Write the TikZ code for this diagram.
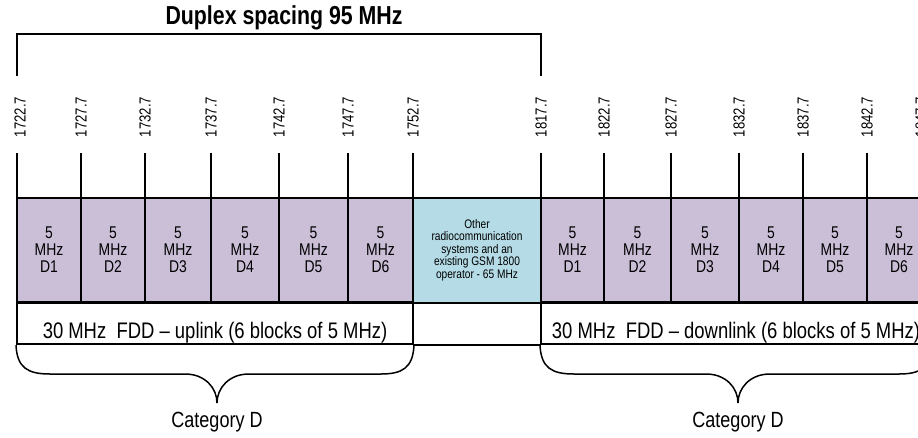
\documentclass[tikz,border=0pt]{standalone}
\usepackage{fontspec}
\setmainfont[FakeStretch=0.82]{Liberation Sans}
\usepackage{tikz}
\definecolor{lilac}{HTML}{CBBFD8}
\definecolor{gsmblue}{HTML}{B5DCE6}

\begin{document}
\begin{tikzpicture}[x=1pt,y=-1pt,line width=2pt,
  block/.style={draw,fill=lilac,minimum height=105,inner sep=0pt,align=center,font=\fontsize{17}{17}\selectfont},
  rowbox/.style={draw,minimum height=42,inner sep=0pt,text height=30pt,text depth=0pt,font=\fontsize{22.5}{26}\selectfont},
  freq/.style={rotate=90,anchor=west,inner sep=0pt,font=\fontsize{16}{18}\selectfont},
  cat/.style={anchor=base,inner sep=0pt,font=\fontsize{22}{24}\selectfont},
  brace/.style={line width=1.5pt}]
\useasboundingbox (0,0) rectangle (918,437);
\clip (0,0) rectangle (918,437);
% frequency marks
\foreach \x/\f [count=\i] in {20/1722.7,81/1727.7,145/1732.7,211/1737.7,279/1742.7,348/1747.7,413/1752.7,
  541/1817.7,604/1822.7,671/1827.7,739/1832.7,803/1837.7,867/1842.7,921/1847.7}
  \node[freq] (f\i) at (\x,138) {\f};
\foreach \x in {17,81,145,211,279,348,413,541,604,671,739,803,867} \draw (\x,153) -- (\x,197);
% blocks
\foreach \a/\b [count=\i] in {17/81,81/145,145/211,211/279,279/348,348/413}
  \node[block,minimum width=\b-\a] (u\i) at ({(\a+\b)/2},250) {5\\MHz\\D\i};
\foreach \a/\b [count=\i] in {541/604,604/671,671/739,739/803,803/867,867/931}
  \node[block,minimum width=\b-\a] (d\i) at ({(\a+\b)/2},250) {5\\MHz\\D\i};
\node[block,fill=gsmblue,minimum width=128,font=\fontsize{12.4}{12.6}\selectfont] (gsm) at (477,250)
  {Other\\radiocommunication\\systems and an\\existing GSM 1800\\operator - 65 MHz};
\node[rowbox,minimum width=396] (uprow) at (215,323) {30 MHz\ \ FDD -- uplink (6 blocks of 5 MHz)};
\node[rowbox,minimum width=390] (dnrow) at (736,323) {30 MHz\ \ FDD -- downlink (6 blocks of 5 MHz)};
\draw (uprow.south east) -- (dnrow.south west);
% duplex spacing
\node[font=\bfseries\fontsize{26}{28}\selectfont,inner sep=0pt] (title) at (284,18) {Duplex spacing 95 MHz};
\coordinate (dl) at (17,76);
\coordinate (dr) at (541,76);
\draw (dl) -- ++(0,-42) -| (dr);
% braces
\draw[brace] (uprow.south west) .. controls (17,368) and (28,374) .. (50,374) -- (185,374)
  .. controls (205,374) and (217,388) .. (217,403) .. controls (217,388) and (229,374) .. (249,374)
  -- (381,374) .. controls (402,374) and (413,368) .. (uprow.south east);
\draw[brace] (dnrow.south west) .. controls (541,368) and (552,374) .. (574,374) -- (706,374)
  .. controls (726,374) and (738,388) .. (738,403) .. controls (738,388) and (750,374) .. (770,374)
  -- (899,374) .. controls (920,374) and (931,368) .. (dnrow.south east);
\node[cat] (catu) at (217,427) {Category D};
\node[cat] (catd) at (738,427) {Category D};
\end{tikzpicture}
\end{document}
